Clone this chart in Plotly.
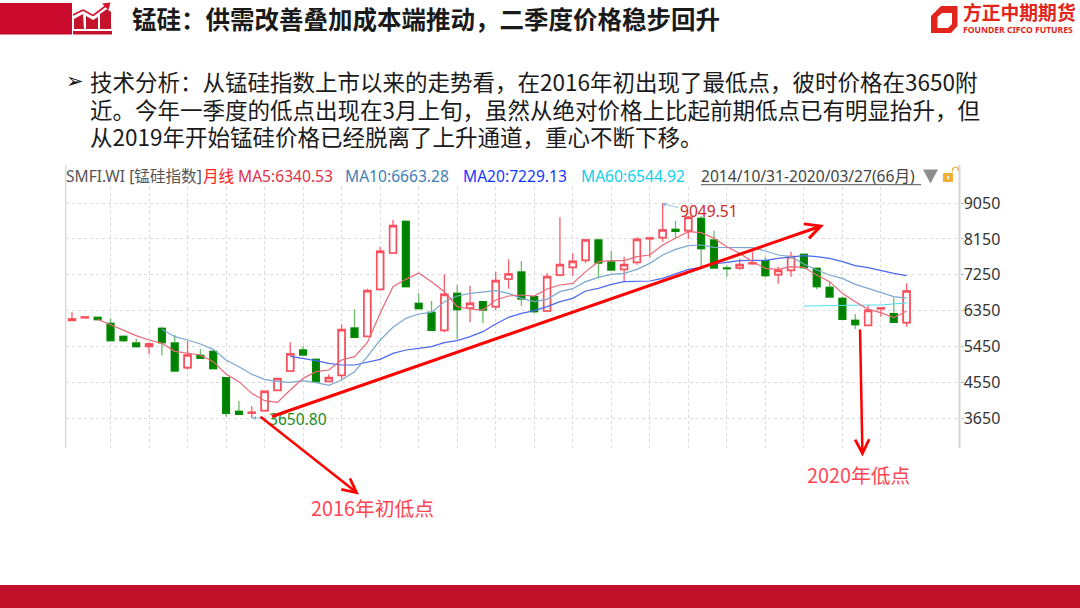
import plotly.graph_objects as go

W, H = 1080, 608

opens = [6108,6175,6184,6033,5707,5540,5457,5908,5540,4922,5231,5331,4671,3827,3785,3844,4354,4838,5365,5131,4579,4729,5916,5707,6886,7797,8590,6535,6309,5858,6785,6418,6576,6451,7145,7320,6702,6342,7245,7437,7613,8122,7571,7387,7563,8156,8181,8390,8356,8666,8122,7420,7420,7529,7604,7253,7362,7763,7412,6936,6660,6108,5983,6401,6276,6050]
highs = [6309,6209,6192,6159,5716,5649,5557,5950,5749,5590,5390,5356,4688,4086,3952,4337,4654,5557,5457,5147,4755,6008,6384,6902,7955,8624,8607,6785,6593,7262,6994,6978,6576,7329,7638,7596,6718,7295,8691,7788,8139,8164,7847,7705,8189,8189,9049.51,8607,8724,8724,8356,7487,7654,7830,7705,7454,7830,7771,7429,7069,6702,6267,6493,6426,6677,7036]
lows = [6092,6159,6117,5590,5574,5440,5256,5231,4830,4872,5147,4888,3693,3743,3650.80,3835,4345,4830,5231,4562,4571,4629,5674,5699,6877,7788,6944,6393,5849,5808,5632,6058,6033,6359,6902,6476,6284,6334,7212,7220,7546,7161,7354,7086,7504,7680,8081,8139,8148,7471,7404,7203,7370,7521,7186,7028,7203,7404,6886,6677,6125,5891,5975,6200,6042,5950]
closes = [6142,6192,6125,5599,5599,5448,5515,5549,4838,5239,5156,4897,3777,3752,3802,4328,4646,5264,5239,4571,4671,5874,5682,6852,7838,8482,6952,6401,5858,6760,6376,6535,6367,7103,7270,6643,6326,7203,7504,7588,8122,7546,7370,7504,8139,8173,8373,8340,8691,7905,7420,7404,7504,7546,7228,7362,7705,7429,6952,6693,6134,6000,6359,6418,6058,6844]

ma5 = [6134,5991,5866,5724,5615,5532,5331,5281,5239,5072,4763,4571,4278,4094,4053,4362,4654,4821,4863,5114,5197,5549,6284,6952,7136,7295,7078,6827,6451,6393,6367,6618,6718,6744,6718,6894,6994,7036,7329,7579,7604,7604,7705,7746,7997,8164,8331,8306,8164,7955,7788,7579,7412,7387,7454,7437,7245,7078,6785,6576,6384,6301,6175,6340.53]
ma10 = [5883,5699,5615,5515,5381,5114,4947,4755,4629,4571,4554,4596,4546,4479,4612,4821,5197,5615,5933,6159,6267,6309,6576,6718,6785,6827,6852,6785,6660,6576,6635,6827,6902,7078,7186,7262,7287,7387,7537,7746,7888,7980,7997,7939,7930,7930,7930,7847,7746,7705,7521,7370,7245,7161,7011,6911,6802,6702,6663.28]
ma20 = [5206,5156,5097,5030,4989,4989,5055,5131,5281,5365,5406,5448,5549,5599,5699,5824,6017,6184,6284,6351,6451,6576,6660,6844,6911,7011,7078,7086,7095,7161,7270,7387,7437,7521,7563,7604,7613,7613,7663,7705,7730,7705,7663,7579,7479,7429,7354,7287,7229.13]
ma60 = [6468,6476,6476,6484,6484,6493,6493,6510,6544.92]

y_ticks = [3650,4550,5450,6350,7250,8150,9050]
x_ticks = list(range(3, 64, 3))

legend_items = [
    ("SMFI.WI [锰硅指数]", 66, "#555555"),
    ("月线", 203, "#FF2020"),
    ("MA5:6340.53", 238, "#E0304A"),
    ("MA10:6663.28", 345, "#3F80B8"),
    ("MA20:7229.13", 463, "#1438FF"),
    ("MA60:6544.92", 581, "#10D0E8"),
    ("2014/10/31-2020/03/27(66月)", 701, "#444444"),
]

body_lines = [
    ("技术分析：从锰硅指数上市以来的走势看，在2016年初出现了最低点，彼时价格在3650附", 83),
    ("近。今年一季度的低点出现在3月上旬，虽然从绝对价格上比起前期低点已有明显抬升，但", 111),
    ("从2019年开始锰硅价格已经脱离了上升通道，重心不断下移。", 138),
]

TXT = "Noto Sans, Noto Sans CJK SC, sans-serif"
CJK = "Noto Sans CJK SC, sans-serif"


def px(x):
    return x / W


def py(y):
    return 1 - y / H


idx = list(range(len(opens)))
fig = go.Figure()

# wicks
fig.add_trace(go.Candlestick(
    x=idx, open=opens, high=highs, low=lows, close=closes,
    increasing=dict(line=dict(color="#F7606C", width=1.3), fillcolor="rgba(255,255,255,0)"),
    decreasing=dict(line=dict(color="#6DBB6D", width=1.3), fillcolor="rgba(0,128,0,0)"),
    whiskerwidth=0, showlegend=False, hoverinfo="skip",
))
# bodies
top = [max(o, c) for o, c in zip(opens, closes)]
bot = [min(o, c) for o, c in zip(opens, closes)]
fig.add_trace(go.Candlestick(
    x=idx, open=opens, high=top, low=bot, close=closes,
    increasing=dict(line=dict(color="#F9505E", width=1.7), fillcolor="#FFFFFF"),
    decreasing=dict(line=dict(color="#008A00", width=1.2), fillcolor="#008000"),
    whiskerwidth=0, showlegend=False, hoverinfo="skip",
))

for vals, color in ((ma60, "#58DDF0"), (ma20, "#4A68F0"), (ma10, "#7CA8D0"), (ma5, "#E86878")):
    fig.add_trace(go.Scatter(
        x=idx[len(idx) - len(vals):], y=vals, mode="lines",
        line=dict(color=color, width=1.2), showlegend=False, hoverinfo="skip",
    ))

shapes = []


def poly(points, color, line=None):
    d = "M " + " L ".join(f"{px(x):.5f},{py(y):.5f}" for x, y in points) + " Z"
    shapes.append(dict(type="path", xref="paper", yref="paper", path=d, fillcolor=color,
                       line=dict(width=0), layer="above"))


def seg(x0, y0, x1, y1, color, width):
    shapes.append(dict(type="line", xref="paper", yref="paper", x0=px(x0), y0=py(y0), x1=px(x1), y1=py(y1),
                       line=dict(color=color, width=width), layer="above"))


# header band and footer
poly([(0, 3), (72, 3), (72, 34.5), (0, 34.5)], "#C90A2C")
poly([(0, 585), (1080, 585), (1080, 608), (0, 608)], "#C0102A")
# header icon
poly([(73, 31), (112, 31), (112, 34.5), (73, 34.5)], "#C4142C")
poly([(74, 19), (83, 14), (84, 29), (74, 29)], "#C4142C")
poly([(86, 16), (93, 20), (98, 17), (98, 29), (86, 29)], "#C4142C")
poly([(100, 14), (107, 9), (111, 12), (111, 29), (100, 29)], "#C4142C")
seg(73, 15, 83, 10, "#D0152F", 1.6)
seg(83, 10, 93, 15.5, "#D0152F", 1.6)
seg(93, 15.5, 107, 5, "#D0152F", 1.6)
poly([(102, 3.5), (110.5, 2.5), (108.5, 10)], "#D0152F")
# logo mark
poly([(941, 6), (957.5, 6), (957.5, 26), (951, 33), (931, 33), (931, 16)], "#E1251B")
poly([(937.5, 17), (942, 13), (952, 13), (952, 24), (948, 28), (937.5, 28)], "#FFFFFF")
# chart frame
seg(65.7, 165, 65.7, 448, "#D6D6D6", 1.3)
seg(959.5, 165, 959.5, 448, "#D6D6D6", 2)
seg(701, 184.7, 921, 184.7, "#555555", 1)
# toolbar glyphs
poly([(923, 169.5), (938, 169.5), (930.5, 183.5)], "#8E8E8E")
poly([(943, 173), (953, 173), (953, 182), (943, 182)], "#F0B038")
poly([(947.5, 176), (949, 176), (949, 179), (947.5, 179)], "#FFFFFF")
seg(952, 172, 953, 168, "#F0B038", 1.2)
seg(953, 168, 957, 167, "#F0B038", 1.2)
seg(957, 167, 958.5, 171, "#F0B038", 1.2)

ann = []


def text(s, x, y, size, color, family=TXT, bold=False):
    dy = 2.2 if family == CJK else 0
    ann.append(dict(text=f"<b>{s}</b>" if bold else s, x=px(x - 2.5), y=py(y - dy), xref="paper", yref="paper",
                    xanchor="left", yanchor="middle", showarrow=False,
                    font=dict(size=size, color=color, family=family)))


def arrow(x0, y0, x1, y1, color, width, head=5, size=1.0):
    ann.append(dict(text="", x=px(x1), y=py(y1), xref="paper", yref="paper",
                    axref="pixel", ayref="pixel", ax=x0 - x1, ay=y0 - y1, showarrow=True,
                    arrowhead=head, arrowsize=size, arrowwidth=width, arrowcolor=color, standoff=0))


text("锰硅：供需改善叠加成本端推动，二季度价格稳步回升", 132, 21, 24.5, "#1A1A1A", CJK, bold=True)
text("方正中期期货", 963, 14, 18.8, "#E1251B", CJK, bold=True)
text("FOUNDER CIFCO FUTURES", 963, 29.5, 8.6, "#E1251B", TXT, bold=True)

text("➢", 66, 81, 21, "#111111", "DejaVu Sans")
for s, y in body_lines:
    text(s, 90, y, 22.5, "#1A1A1A", CJK)

for s, x, c in legend_items:
    text(s, x, 175.5, 15.6, c)

text("9049.51", 680, 211, 15.6, "#D02828")
text("3650.80", 269, 419, 15.6, "#1E8C1E")
text("2016年初低点", 311, 510, 19.8, "#FF4552", CJK)
text("2020年低点", 807, 477, 19.8, "#FF4552", CJK)

arrow(680, 208, 662, 203.5, "#7CB8E0", 0.8, head=2, size=1)
arrow(268, 418, 252, 418, "#7CB8E0", 0.8, head=2, size=1)

arrow(270.5, 417, 824, 225, "#FF0000", 3, head=5, size=1.0)
arrow(259, 415.5, 359, 494.5, "#FF0000", 2.5, head=5, size=1.1)
arrow(860, 328, 862.5, 456.5, "#FF0000", 2.5, head=5, size=1.1)

PX0, SP = 72.0, 12.84
TOP, BOT = 187.0, 448.0
Y_AT = lambda p: 3650 + (418.4 - p) * 25.07

fig.update_layout(
    width=W, height=H, autosize=False,
    margin=dict(l=0, r=0, t=0, b=0, pad=0),
    paper_bgcolor="white", plot_bgcolor="white",
    showlegend=False, font=dict(family=TXT),
    shapes=shapes, annotations=ann, boxgap=0.25,
    xaxis=dict(
        domain=[px(66), px(959.5)],
        range=[(66 - PX0) / SP, (959.5 - PX0) / SP],
        rangeslider=dict(visible=False),
        tickmode="array", tickvals=x_ticks, showticklabels=False, ticks="",
        showgrid=True, gridcolor="#DCDCDC", griddash="dot", gridwidth=1,
        zeroline=False, showline=False, fixedrange=True,
    ),
    yaxis=dict(
        domain=[py(BOT), py(TOP)],
        range=[Y_AT(BOT), Y_AT(TOP)],
        side="right",
        tickmode="array", tickvals=y_ticks, ticktext=[str(v) for v in y_ticks],
        ticks="outside", ticklen=3, tickcolor="#BBBBBB", tickwidth=1,
        ticklabelstandoff=-3,
        tickfont=dict(size=16, color="#333333", family=TXT),
        showgrid=True, gridcolor="#DCDCDC", griddash="dot", gridwidth=1,
        zeroline=False, showline=False, fixedrange=True,
    ),
)

fig.write_html("out.html", config={"displayModeBar": False},
               post_script="document.body.style.margin='0';document.body.style.overflow='hidden';")
